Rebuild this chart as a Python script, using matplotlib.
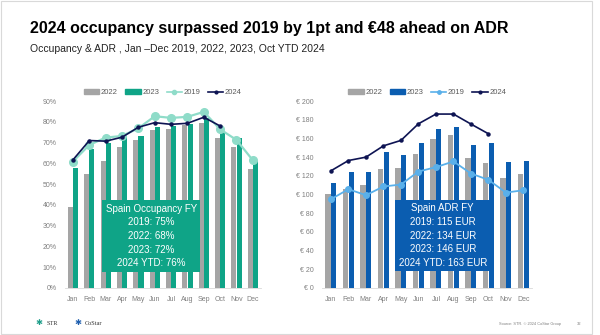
import numpy as np
import matplotlib.pyplot as plt
from matplotlib.lines import Line2D
from matplotlib.patches import Rectangle

plt.rcParams['font.family'] = ['Liberation Sans', 'DejaVu Sans']

months = ['Jan', 'Feb', 'Mar', 'Apr', 'May', 'Jun', 'Jul', 'Aug', 'Sep', 'Oct', 'Nov', 'Dec']

# occupancy, %
occ_2022 = [38.8, 54.7, 61.0, 67.8, 71.2, 76.3, 76.6, 78.5, 79.5, 72.1, 67.8, 57.4]
occ_2023 = [58.0, 67.0, 70.0, 72.6, 73.2, 77.7, 78.2, 79.1, 81.7, 75.3, 72.1, 61.2]
occ_2019 = [60.9, 68.9, 72.4, 73.2, 76.9, 82.7, 81.9, 82.4, 84.8, 76.4, 71.3, 61.5]
occ_2024 = [61.7, 71.0, 70.7, 72.6, 77.4, 79.6, 78.8, 79.3, 82.2, 78.0]

# ADR, EUR
adr_2022 = [100.4, 105.5, 110.7, 127.2, 128.6, 143.6, 159.3, 164.0, 139.6, 134.0, 117.5, 122.1]
adr_2023 = [112.8, 124.6, 124.0, 145.0, 141.8, 155.0, 170.4, 172.1, 153.2, 155.0, 134.3, 135.7]
adr_2019 = [95.0, 105.7, 99.3, 108.6, 110.7, 124.6, 129.3, 135.4, 122.5, 115.7, 102.1, 104.6]
adr_2024 = [125.4, 136.4, 140.0, 152.1, 157.9, 175.7, 186.1, 186.1, 175.4, 165.0]

occ_box = 'Spain Occupancy FY\n2019: 75%\n2022: 68%\n2023: 72%\n2024 YTD: 76%'
adr_box = 'Spain ADR FY\n2019: 115 EUR\n2022: 134 EUR\n2023: 146 EUR\n2024 YTD: 163 EUR'

grey = '#A5A5A5'
teal = '#0FA487'
teal_light = '#8FDCC9'
blue = '#0B5DB0'
blue_light = '#5AB0EA'
navy = '#0E1453'
tick_col = '#7F7F7F'

fig = plt.figure(figsize=(6, 3.35), dpi=100)
fig.patches.append(Rectangle((0.002, 0.003), 0.985, 0.993, transform=fig.transFigure,
                             fill=False, edgecolor='#D9D9D9', linewidth=0.8))

fig.text(0.05, 0.915, '2024 occupancy surpassed 2019 by 1pt and €48 ahead on ADR',
         fontsize=11.5, fontweight='bold', color='black', va='center')
fig.text(0.05, 0.855, 'Occupancy & ADR , Jan \u2013Dec 2019, 2022, 2023, Oct YTD 2024',
         fontsize=7.5, color='#222222', va='center')

ax1 = fig.add_axes([0.108, 0.1403, 0.327, 0.558])
ax2 = fig.add_axes([0.537, 0.1403, 0.35, 0.558])

x = np.arange(len(months))
w = 0.31
off = 0.16


def style(ax, ymax, step, fmt):
    ax.set_xlim(-0.5, 11.5)
    ax.set_ylim(0, ymax)
    ax.set_yticks(np.arange(0, ymax + 0.1, step))
    ax.set_yticklabels([fmt(v) for v in np.arange(0, ymax + 0.1, step)])
    ax.set_xticks(x)
    ax.set_xticklabels(months)
    for s in ['top', 'right', 'left']:
        ax.spines[s].set_visible(False)
    ax.spines['bottom'].set_color('#D9D9D9')
    ax.spines['bottom'].set_linewidth(0.6)
    ax.tick_params(length=0, labelsize=5, colors=tick_col, pad=6)
    ax.patch.set_alpha(0)


# occupancy chart
ax1.bar(x - off, occ_2022, w, color=grey, zorder=2)
ax1.bar(x + off, occ_2023, w, color=teal, zorder=2)
ax1.plot(x, occ_2019, color=teal_light, lw=1.6, marker='o', ms=5.5, zorder=3)
ax1.plot(x[:len(occ_2024)], occ_2024, color=navy, lw=1.2, marker='o', ms=2.2, zorder=4)
style(ax1, 90, 10, lambda v: f'{v:.0f}%')
ax1.text(0.44, 0.278, occ_box, transform=ax1.transAxes, ha='center', va='center',
         color='white', fontsize=7, linespacing=1.45, zorder=6,
         bbox=dict(boxstyle='square,pad=0.35', fc=teal, ec='none'))

# ADR chart
ax2.bar(x - off, adr_2022, w, color=grey, zorder=2)
ax2.bar(x + off, adr_2023, w, color=blue, zorder=2)
ax2.plot(x, adr_2019, color=blue_light, lw=1.3, marker='o', ms=4, zorder=3)
ax2.plot(x[:len(adr_2024)], adr_2024, color=navy, lw=1.2, marker='o', ms=2.2, zorder=4)
style(ax2, 200, 20, lambda v: f'€ {v:.0f}')
ax2.text(0.574, 0.28, adr_box, transform=ax2.transAxes, ha='center', va='center',
         color='white', fontsize=7, linespacing=1.45, zorder=6,
         bbox=dict(boxstyle='square,pad=0.35', fc=blue, ec='none'))


def legend(ax, c_bar, c_line, ms):
    handles = [Rectangle((0, 0), 1, 1, color=grey),
               Rectangle((0, 0), 1, 1, color=c_bar),
               Line2D([], [], color=c_line, marker='o', ms=ms, lw=1.2),
               Line2D([], [], color=navy, marker='o', ms=2, lw=1.2)]
    ax.legend(handles, ['2022', '2023', '2019', '2024'], loc='lower center',
              bbox_to_anchor=(0.5, 1.0), ncol=4, frameon=False, fontsize=5.5,
              handlelength=2.0, handleheight=0.6, handletextpad=0.2,
              columnspacing=1.0, labelcolor='#595959', borderaxespad=0.2)


legend(ax1, teal, teal_light, 3)
legend(ax2, blue, blue_light, 2.5)

# footer
fig.text(0.065, 0.033, '\u2731', fontsize=6, color='#1E9E8A', va='center', ha='center')
fig.text(0.077, 0.033, 'STR', fontsize=4.5, color='#333333', va='center',
         family=['Liberation Serif', 'DejaVu Serif'])
fig.text(0.13, 0.033, '\u2731', fontsize=6, color='#1F5FAF', va='center', ha='center')
fig.text(0.142, 0.033, 'CoStar', fontsize=4.5, color='#333333', va='center',
         family=['Liberation Serif', 'DejaVu Serif'])
fig.text(0.935, 0.033, 'Source: STR. © 2024 CoStar Group', fontsize=2.8, color='#7F7F7F',
         va='center', ha='right')
fig.text(0.965, 0.033, '32', fontsize=3, color='#7F7F7F', va='center', ha='center')

fig.savefig('out.png', dpi=100)
